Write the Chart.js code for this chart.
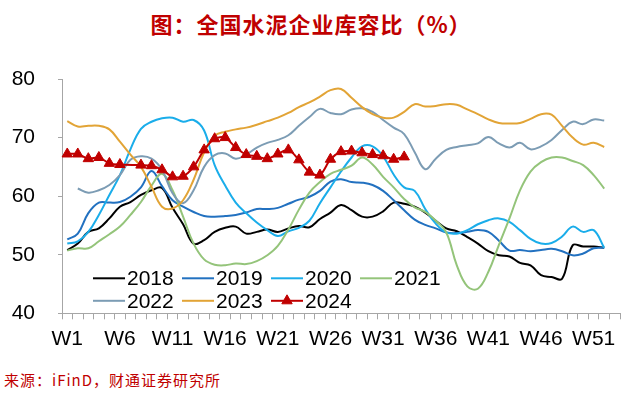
<!DOCTYPE html>
<html><head><meta charset="utf-8">
<script src="https://cdn.jsdelivr.net/npm/chart.js@4"></script>
<style>
body{margin:0;background:#fff;}
#wrap{position:relative;width:640px;height:402px;overflow:hidden;background:#fff}
#title{position:absolute;left:0;top:10px;width:622px;text-align:center;font:bold 22px/26px "Noto Sans CJK SC";color:#C00000;letter-spacing:1px;white-space:nowrap}
#box{position:absolute;left:0;top:40px;width:640px;height:320px}
#src{position:absolute;left:4px;top:371px;font:15px/18px "Noto Sans CJK SC";color:#C00000;letter-spacing:1px;white-space:nowrap}
</style></head>
<body>
<div id="wrap">
<div id="title">图：全国水泥企业库容比（%）</div>
<div id="box"><canvas id="c"></canvas></div>
<div id="src">来源：iFinD，财通证券研究所</div>
</div>
<script>
const categories = ['W1','W2','W3','W4','W5','W6','W7','W8','W9','W10','W11','W12','W13','W14','W15','W16','W17','W18','W19','W20','W21','W22','W23','W24','W25','W26','W27','W28','W29','W30','W31','W32','W33','W34','W35','W36','W37','W38','W39','W40','W41','W42','W43','W44','W45','W46','W47','W48','W49','W50','W51','W52','W53'];
const seriesNames = ['2018','2019','2020','2021','2022','2023','2024'];
const yTicks = [40, 50, 60, 70, 80];

const s2018 = [50.8,51.9,53.9,54.5,56.2,58.2,59.0,60.2,61.0,61.4,58.0,55.2,51.9,52.5,53.9,54.6,54.8,53.6,53.9,54.3,53.9,54.5,54.9,54.7,56.1,57.2,58.5,57.6,56.5,56.5,57.4,58.9,58.7,58.2,57.2,55.8,54.5,54.0,53.0,51.9,50.6,49.9,49.7,48.6,48.2,46.5,46.2,45.9,51.6,51.4,51.4,51.2];
const s2019 = [52.6,53.6,57.1,58.9,58.9,59.0,59.9,61.5,64.3,61.7,59.3,58.2,57.3,56.6,56.5,56.6,56.8,57.2,57.8,57.8,58.0,58.7,59.4,59.9,60.9,62.5,62.9,62.4,62.3,61.9,60.9,59.3,57.6,56.0,55.1,54.5,53.8,53.7,53.9,54.2,53.9,52.4,50.7,50.8,50.6,50.8,51.0,50.6,49.9,50.2,51.1,51.2];
const s2020 = [51.9,52.3,53.9,56.8,60.2,63.6,68.0,71.5,72.7,73.3,73.4,72.7,73.0,71.2,65.3,61.8,58.9,57.1,55.5,54.2,53.2,54.0,54.6,55.8,58.8,61.5,64.2,66.6,68.5,68.5,66.8,63.7,61.5,60.9,57.8,55.3,53.8,53.6,54.2,55.2,55.9,56.2,55.6,54.2,52.7,51.9,52.0,53.1,54.8,53.9,54.2,51.2];
const s2021 = [50.7,51.1,51.1,52.3,53.5,54.8,56.8,59.0,61.8,63.8,61.0,56.5,51.9,49.2,48.3,48.2,48.5,48.4,48.9,49.9,51.5,54.3,57.7,60.6,62.4,63.8,64.5,65.2,66.6,65.4,63.3,61.5,59.5,58.1,57.3,55.8,53.8,48.2,44.6,44.2,47.1,51.7,56.2,61.0,64.2,65.8,66.6,66.6,66.0,65.3,63.6,61.3];
const s2022 = [null,61.3,60.6,61.0,61.9,63.6,66.2,66.8,66.4,64.5,60.5,58.8,61.0,65.0,67.0,67.3,66.4,67.1,68.3,69.1,69.6,70.4,72.0,73.5,74.9,74.2,74.0,74.8,75.0,74.4,73.0,71.7,70.6,67.5,64.6,66.4,67.9,68.4,68.7,69.0,70.1,69.0,68.3,69.1,68.0,68.5,69.6,71.3,72.7,72.3,73.1,72.9];
const s2023 = [72.8,71.9,72.0,72.0,71.4,69.3,67.1,65.0,61.6,58.2,57.9,59.3,62.8,67.5,70.3,71.0,71.4,71.7,72.2,72.8,73.4,74.2,75.2,76.0,77.0,78.1,78.3,76.8,75.2,74.0,73.4,73.4,74.4,75.7,75.3,75.4,75.7,75.6,74.8,74.0,73.1,72.5,72.4,72.5,73.2,74.0,73.9,72.0,70.0,68.8,69.1,68.4];
const s2024 = [67.2,67.2,66.4,66.6,65.6,65.4,null,65.3,65.2,64.5,63.3,63.4,65.0,67.9,69.8,70.0,68.3,67.1,66.8,66.4,67.2,67.9,66.2,64.1,63.6,66.3,67.6,67.7,67.4,67.1,66.9,66.3,66.7];

Chart.defaults.font.family = "'Liberation Sans', Arial, sans-serif";
Chart.defaults.font.size = 21;
Chart.defaults.color = '#000';

function lineSet(label, data, color, order) {
  return { label, data, borderColor: color, backgroundColor: color, borderWidth: 2,
    pointRadius: 0, pointHoverRadius: 0, tension: 0.4, fill: false, order };
}

const datasets = [
  lineSet(seriesNames[0], s2018, '#000000', 6),
  lineSet(seriesNames[1], s2019, '#2271C0', 5),
  lineSet(seriesNames[2], s2020, '#1AADEA', 4),
  lineSet(seriesNames[3], s2021, '#94C47A', 3),
  lineSet(seriesNames[4], s2022, '#7C9CB4', 2),
  lineSet(seriesNames[5], s2023, '#E2A436', 1),
  Object.assign(lineSet(seriesNames[6], s2024, '#C00000', 0), {
    pointStyle: 'triangle', pointRadius: 6, pointBorderWidth: 1,
    pointBackgroundColor: '#C00000', pointBorderColor: '#C00000', spanGaps: true, tension: 0.3
  })
];

const insideLegend = {
  id: 'insideLegend',
  afterDatasetsDraw(chart) {
    const { ctx, chartArea } = chart;
    ctx.save();
    ctx.font = "21px 'Liberation Sans', Arial, sans-serif";
    ctx.textBaseline = 'middle';
    ctx.textAlign = 'left';
    chart.data.datasets.forEach((ds, i) => {
      const row = i < 4 ? 0 : 1;
      const col = i < 4 ? i : i - 4;
      const x = chartArea.left + 31 + col * 89;
      const y = chartArea.bottom - (row === 0 ? 35 : 12.5);
      ctx.strokeStyle = ds.borderColor;
      ctx.lineWidth = 2;
      ctx.beginPath(); ctx.moveTo(x, y); ctx.lineTo(x + 32, y); ctx.stroke();
      if (ds.pointStyle === 'triangle') {
        const r = 6, cx = x + 16;
        ctx.fillStyle = ds.pointBackgroundColor;
        ctx.lineWidth = 1;
        ctx.beginPath();
        for (let k = 0; k < 3; k++) {
          const a = k * 2 * Math.PI / 3;
          const px = cx + Math.sin(a) * r, py = y - Math.cos(a) * r;
          if (k === 0) ctx.moveTo(px, py); else ctx.lineTo(px, py);
        }
        ctx.closePath(); ctx.fill(); ctx.stroke();
      }
      ctx.fillStyle = '#000';
      ctx.fillText(ds.label, x + 34, y + 1);
    });
    ctx.restore();
  }
};

new Chart(document.getElementById('c'), {
  type: 'line',
  data: { labels: categories, datasets },
  options: {
    responsive: true, maintainAspectRatio: false, animation: false,
    layout: { padding: { left: 12, top: 39, right: 20, bottom: 8.5 } },
    plugins: { legend: { display: false }, tooltip: { enabled: false }, title: { display: false } },
    scales: {
      x: {
        type: 'category', offset: true,
        afterFit: (s) => { s.paddingLeft = 0; s.paddingRight = 0; s.height = 38.2; },
        grid: { display: true, drawOnChartArea: false, drawTicks: true, tickLength: 6, color: '#A6A6A6', offset: true },
        border: { display: true, color: '#A6A6A6', width: 1 },
        ticks: { autoSkip: false, maxRotation: 0, minRotation: 0, padding: 7,
          callback: (v, i) => (i % 5 === 0 ? categories[i] : '') }
      },
      y: {
        min: yTicks[0], max: yTicks[yTicks.length - 1],
        afterBuildTicks: (s) => { s.ticks = yTicks.map(v => ({ value: v })); },
        afterFit: (s) => { s.width = 50; },
        grid: { display: true, drawOnChartArea: false, drawTicks: true, tickLength: 4, color: '#A6A6A6' },
        border: { display: true, color: '#A6A6A6', width: 1 },
        ticks: { padding: 23 }
      }
    }
  },
  plugins: [insideLegend]
});
</script>
</body></html>
